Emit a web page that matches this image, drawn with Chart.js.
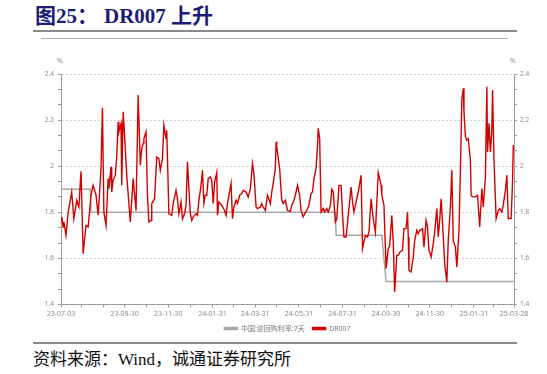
<!DOCTYPE html>
<html><head><meta charset="utf-8">
<script src="https://cdn.jsdelivr.net/npm/chart.js@4.4.1/dist/chart.umd.min.js"></script>
<style>
html,body{margin:0;padding:0;background:#fff;}
#wrap{position:relative;width:547px;height:374px;overflow:hidden;background:#fff;}
.t{position:absolute;top:5px;font-family:"Liberation Serif","Noto Sans CJK SC",serif;font-weight:bold;font-size:21px;line-height:22px;color:#1c1c78;white-space:nowrap;}
.ln{position:absolute;}
#src{position:absolute;left:33px;top:351px;font-family:"Liberation Serif","Noto Sans CJK SC",serif;font-size:17px;line-height:17px;color:#111;white-space:nowrap;}
.pct{position:absolute;top:57px;font-family:"Noto Sans",sans-serif;font-size:7px;line-height:8px;color:#8a8a8a;z-index:2;}
#cv{position:absolute;left:0;top:44px;}
</style></head>
<body>
<div id="wrap">
  <div class="t" style="left:35px;">图25：</div>
  <div class="t" style="left:104px;">DR007 上升</div>
  <div class="ln" style="left:33px;top:30px;width:484px;height:2px;background:#8a8a8a;"></div>
  <div class="ln" style="left:41px;top:38px;width:467px;height:1px;background:#b4b4b4;"></div>
  <span class="pct" style="left:57px;">%</span>
  <span class="pct" style="left:510px;">%</span>
  <canvas id="cv" width="547" height="298"></canvas>
  <div class="ln" style="left:33px;top:342px;width:484px;height:2px;background:#8a8a8a;"></div>
  <div id="src">资料来源：Wind，诚通证券研究所</div>
</div>
<script>
// ---- data ----
const seriesNames = ['中国:逆回购利率:7天', 'DR007'];
const repoDates = ['2023-07-03','2023-08-13','2023-08-14','2024-07-21','2024-07-22','2024-09-24','2024-09-30','2025-03-28'];
const repoValues = [1.9,1.9,1.8,1.8,1.7,1.7,1.5,1.5];
const dr007Dates = [
'2023-07-03','2023-07-04','2023-07-06','2023-07-07','2023-07-10','2023-07-13','2023-07-18','2023-07-21','2023-07-25','2023-07-28','2023-07-31',
'2023-08-03','2023-08-07','2023-08-10','2023-08-14','2023-08-17','2023-08-21','2023-08-24','2023-08-28','2023-08-30',
'2023-09-01','2023-09-04','2023-09-07','2023-09-08','2023-09-11','2023-09-12','2023-09-14','2023-09-17','2023-09-19','2023-09-21','2023-09-22','2023-09-25','2023-09-26','2023-09-28','2023-09-30',
'2023-10-03','2023-10-08','2023-10-12','2023-10-16','2023-10-19','2023-10-22','2023-10-24','2023-10-26','2023-10-27','2023-10-30',
'2023-11-01','2023-11-03','2023-11-06','2023-11-07','2023-11-11','2023-11-14','2023-11-17','2023-11-19','2023-11-22','2023-11-24','2023-11-27','2023-11-28',
'2023-12-01','2023-12-05','2023-12-07','2023-12-11','2023-12-13','2023-12-15','2023-12-18','2023-12-20','2023-12-23','2023-12-25','2023-12-27','2023-12-31',
'2024-01-02','2024-01-04','2024-01-08','2024-01-10','2024-01-12','2024-01-15','2024-01-17','2024-01-19','2024-01-21','2024-01-23','2024-01-25','2024-01-28','2024-01-30',
'2024-02-01','2024-02-03','2024-02-06','2024-02-07','2024-02-09','2024-02-13','2024-02-17','2024-02-19','2024-02-21','2024-02-26','2024-02-28',
'2024-03-01','2024-03-04','2024-03-06','2024-03-09','2024-03-12','2024-03-14','2024-03-18','2024-03-21','2024-03-24','2024-03-27','2024-03-29',
'2024-04-01','2024-04-03','2024-04-07','2024-04-09','2024-04-11','2024-04-14','2024-04-17','2024-04-21','2024-04-23','2024-04-26','2024-04-28','2024-04-29','2024-04-30',
'2024-05-04','2024-05-07','2024-05-09','2024-05-12','2024-05-15','2024-05-19','2024-05-21','2024-05-24','2024-05-26','2024-05-29',
'2024-06-01','2024-06-03','2024-06-06','2024-06-08','2024-06-11','2024-06-14','2024-06-17','2024-06-19','2024-06-21','2024-06-24','2024-06-26','2024-06-27','2024-06-29',
'2024-07-01','2024-07-04','2024-07-06','2024-07-09','2024-07-11','2024-07-14','2024-07-16','2024-07-18','2024-07-21','2024-07-23','2024-07-26','2024-07-29','2024-07-31',
'2024-08-02','2024-08-05','2024-08-09','2024-08-12','2024-08-14','2024-08-16','2024-08-19','2024-08-22','2024-08-26','2024-08-28',
'2024-09-01','2024-09-04','2024-09-06','2024-09-09','2024-09-12','2024-09-15','2024-09-19','2024-09-23','2024-09-24','2024-09-27','2024-09-30',
'2024-10-03','2024-10-05','2024-10-08','2024-10-10','2024-10-12','2024-10-15','2024-10-17','2024-10-19','2024-10-23','2024-10-25','2024-10-28','2024-10-30','2024-10-31',
'2024-11-01','2024-11-04','2024-11-07','2024-11-09','2024-11-12','2024-11-14','2024-11-16','2024-11-20','2024-11-22','2024-11-25','2024-11-27','2024-11-29',
'2024-12-02','2024-12-05','2024-12-07','2024-12-10','2024-12-12','2024-12-14','2024-12-16','2024-12-18','2024-12-21','2024-12-24','2024-12-26','2024-12-29','2024-12-31',
'2025-01-02','2025-01-05','2025-01-07','2025-01-10','2025-01-12','2025-01-14','2025-01-16','2025-01-17','2025-01-19','2025-01-21','2025-01-23','2025-01-26','2025-01-27','2025-01-29',
'2025-02-02','2025-02-05','2025-02-08','2025-02-11','2025-02-13','2025-02-16','2025-02-18','2025-02-19','2025-02-21','2025-02-23','2025-02-25','2025-02-26','2025-02-28',
'2025-03-03','2025-03-06','2025-03-08','2025-03-11','2025-03-13','2025-03-16','2025-03-18','2025-03-20','2025-03-24','2025-03-26','2025-03-27','2025-03-28'];
const dr007Values = [
1.76,1.78,1.736,1.758,1.70,1.80,1.888,1.772,1.852,1.823,1.978,
1.62,1.743,1.736,1.874,1.917,1.874,1.787,1.99,2.253,
1.80,1.743,1.946,1.903,1.997,1.888,1.939,1.96,2.04,2.193,2.149,2.185,1.917,2.236,2.135,
1.96,1.758,1.946,1.808,2.309,2.004,2.077,2.098,2.12,2.149,
1.874,1.758,1.765,1.838,1.859,2.04,2.033,1.982,2.033,2.178,2.12,2.156,
1.794,1.787,1.838,1.895,1.859,1.794,1.845,1.772,1.794,1.83,2.019,1.794,
1.765,1.78,1.794,1.787,1.852,1.917,1.982,1.838,1.874,1.874,1.946,1.954,1.939,
1.838,1.932,1.972,1.787,1.845,1.83,1.808,1.787,1.838,1.925,1.772,
1.823,1.852,1.838,1.874,1.881,1.895,1.888,1.866,1.903,2.011,1.968,
1.823,1.816,1.823,1.838,1.823,1.808,1.874,1.838,1.888,1.946,1.99,2.106,2.084,
1.99,1.852,1.838,1.852,1.808,1.804,1.83,1.852,1.874,1.917,
1.874,1.808,1.78,1.794,1.808,1.83,1.881,1.888,1.946,1.99,2.091,2.164,2.12,
1.801,1.816,1.801,1.816,1.801,1.83,1.90,1.888,1.758,1.772,1.917,1.917,1.794,
1.693,1.693,1.816,1.91,1.845,1.801,1.845,1.888,1.961,1.642,
1.70,1.693,1.714,1.859,1.772,1.714,1.972,1.917,1.874,1.83,1.555,
1.642,1.656,1.787,1.671,1.454,1.613,1.613,1.627,1.635,1.729,1.729,1.801,1.693,
1.548,1.541,1.606,1.678,1.722,1.707,1.722,1.729,1.649,1.765,1.736,1.635,
1.606,1.664,1.714,1.816,1.693,1.765,1.859,1.751,1.577,1.497,1.678,1.823,1.983,
1.678,1.649,1.562,1.722,1.983,2.287,2.338,2.236,2.128,2.113,2.12,2.026,1.874,1.867,
1.867,1.874,1.736,1.903,1.823,1.954,2.345,2.062,2.186,2.062,2.157,2.331,2.026,
1.773,1.809,1.816,1.801,1.831,1.896,1.961,1.773,1.773,1.939,2.091,2.07];
const xStart = '2023-07-03', xEnd = '2025-03-28';
const xTickLabels = ['23-07-03','23-09-30','23-11-30','24-01-31','24-03-31','24-05-31','24-07-31','24-09-30','24-11-30','25-01-31','25-03-28'];
const yMin = 1.4, yMax = 2.4, yMajorStep = 0.2, yMinorPerMajor = 3;

// ---- helpers ----
const base = Date.UTC(+xStart.slice(0,4), +xStart.slice(5,7)-1, +xStart.slice(8,10));
const toDay = s => (Date.UTC(+s.slice(0,4), +s.slice(5,7)-1, +s.slice(8,10)) - base) / 864e5;
const pad = n => String(n).padStart(2,'0');
const fmtX = v => { const d = new Date(base + v*864e5); return String(d.getUTCFullYear()).slice(2)+'-'+pad(d.getUTCMonth()+1)+'-'+pad(d.getUTCDate()); };
const endDay = toDay(xEnd);
const xTickDays = [0];
for (let y = +xStart.slice(0,4), m = +xStart.slice(5,7); ; ) {
  const d = (Date.UTC(y, m, 0) - base) / 864e5;
  if (d >= endDay) break;
  if (d > 0) xTickDays.push(d);
  m++; if (m > 12) { m = 1; y++; }
}
xTickDays.push(endDay);
const nY = Math.round((yMax - yMin) / yMajorStep * yMinorPerMajor);
const yTickVals = Array.from({length: nY + 1}, (_, i) => yMin + i * (yMax - yMin) / nY);
const isMajor = v => Math.abs(v / yMajorStep - Math.round(v / yMajorStep)) < 1e-6;
const fmtY = v => String(Math.round(v * 10) / 10);

const axisCol = '#9c9c9c', labCol = '#8a8a8a';
const tickFont = {size: 7, family: '"Noto Sans", "Noto Sans CJK SC", sans-serif'};
const yFont = {size: 6.5, family: '"Noto Sans", sans-serif'};

const yAxis = (pos, w, padTick) => ({
  position: pos, min: yMin, max: yMax,
  afterBuildTicks: s => { s.ticks = yTickVals.map(v => ({value: v})); },
  afterFit: s => { s.width = w; },
  ticks: {padding: padTick, color: labCol, font: yFont, autoSkip: false, callback: v => isMajor(v) ? fmtY(v) : ''},
  grid: {
    drawOnChartArea: pos === 'left',
    color: c => (c.tick && isMajor(c.tick.value)) ? '#d2d2d2' : 'rgba(0,0,0,0)',
    tickColor: axisCol, tickLength: 3, lineWidth: 1
  },
  border: {color: axisCol, width: 1, dash: [2, 2]}
});

new Chart(document.getElementById('cv'), {
  type: 'line',
  data: {
    datasets: [
      {label: seriesNames[0], data: repoDates.map((d, i) => ({x: toDay(d), y: repoValues[i]})),
       borderColor: '#a8a8a8', backgroundColor: '#a8a8a8', borderWidth: 1.5, pointRadius: 0, tension: 0, order: 1, yAxisID: 'y'},
      {label: seriesNames[1], data: dr007Dates.map((d, i) => ({x: toDay(d), y: dr007Values[i]})),
       borderColor: '#d40000', backgroundColor: '#d40000', borderWidth: 1.4, pointRadius: 0, tension: 0, order: 0, yAxisID: 'y'}
    ]
  },
  options: {
    responsive: false, animation: false, devicePixelRatio: 1,
    layout: {padding: {top: 30, left: 0, right: 0, bottom: 0}},
    scales: {
      x: {
        type: 'linear', position: 'bottom', min: 0, max: endDay,
        afterBuildTicks: s => { s.ticks = xTickDays.map(v => ({value: v})); },
        afterFit: s => { s.height = 12.5; },
        ticks: {autoSkip: false, maxRotation: 0, minRotation: 0, padding: 2, color: labCol, font: tickFont,
                callback: v => { const l = fmtX(v); return xTickLabels.includes(l) ? l : ''; }},
        grid: {drawOnChartArea: false, color: axisCol, tickColor: axisCol, tickLength: 3},
        border: {color: axisCol, width: 1}
      },
      y: yAxis('left', 61, 4),
      y2: yAxis('right', 33, 3)
    },
    plugins: {
      tooltip: {enabled: false},
      legend: {
        position: 'bottom', fullSize: false,
        labels: {boxWidth: 13, boxHeight: 2, padding: 8, color: '#7a7a7a', font: tickFont,
                 sort: (a, b) => a.datasetIndex - b.datasetIndex}
      }
    }
  }
});
</script>
</body></html>
